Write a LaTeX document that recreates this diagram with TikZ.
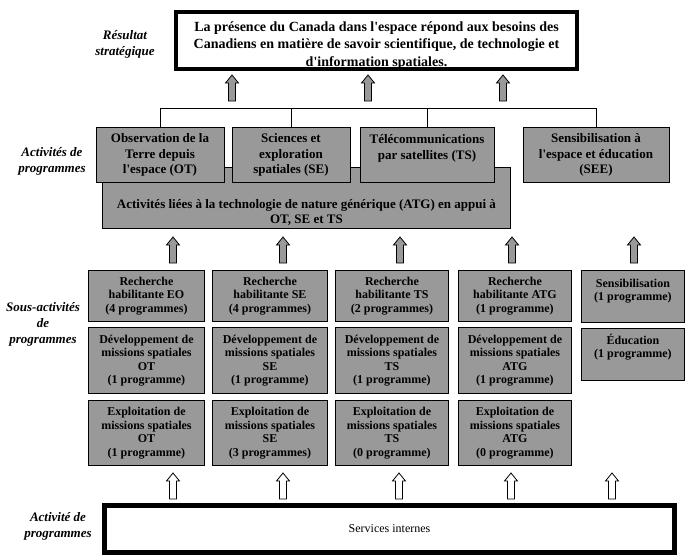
\documentclass[tikz,border=0pt]{standalone}
\usepackage{fontspec}
\setmainfont{Liberation Serif}[Ligatures=TeXOff]
\usetikzlibrary{calc}
\definecolor{boxgray}{RGB}{153,153,153}
\newcommand{\pbx}[4]{\parbox[c][#2][#3]{#1}{\centering #4\par}}
\begin{document}
\begin{tikzpicture}[x=1pt,y=-1pt,
  gbox/.style={draw=black, line width=0.9pt, fill=boxgray, inner sep=0pt, font=\bfseries\fontsize{12}{13.5}\selectfont},
  abox/.style={gbox, anchor=north, font=\bfseries\fontsize{13}{15.5}\selectfont},
  sbox/.style={gbox, anchor=north west},
  lbl/.style={align=center, inner sep=0pt, font=\bfseries\itshape\fontsize{13}{16}\selectfont},
  link/.style={draw=black, line width=0.9pt},
  pics/blockup/.style={code={\draw[line width=0.8pt, fill=#1] (-3.5,0) -- (-3.5,-18) -- (-6.5,-18) -- (0,-26) -- (6.5,-18) -- (3.5,-18) -- (3.5,0) -- cycle;}}
]
\fill[white] (0,0) rectangle (694,560);
\useasboundingbox (0,0) rectangle (694,560);

% strategic result
\node[draw=black, line width=3pt, fill=white, inner sep=0pt, anchor=north west, font=\bfseries\fontsize{14}{17.5}\selectfont] (res) at (174,10)
  {\pbx{402pt}{58pt}{t}{\rule{0pt}{19.5pt}La présence du Canada dans l'espace répond aux besoins des\\Canadiens en matière de savoir scientifique, de technologie et\\d'information spatiales.}};
\draw[line width=0.8pt] ($(res.north west)+(3.5,3.5)$) rectangle ($(res.south east)+(-3.5,-3.5)$);

\pic at (232,101) {blockup=boxgray};
\pic at (368,101) {blockup=boxgray};
\pic at (503,101) {blockup=boxgray};

% program activities
\node[gbox, anchor=north west, font=\bfseries\fontsize{13}{15}\selectfont] (atg) at (102,167)
  {\pbx{408pt}{61pt}{b}{Activités liées à la technologie de nature générique (ATG) en appui à\\OT, SE et TS\\[3pt]}};
\node[abox] (ot) at (160,127) {\pbx{128pt}{55pt}{c}{Observation de la\\Terre depuis\\l'espace (OT)}};
\node[abox] (se) at (291,127) {\pbx{118pt}{55pt}{c}{Sciences et\\exploration\\spatiales (SE)}};
\node[abox] (ts) at (427,127) {\pbx{134pt}{55pt}{t}{\rule{0pt}{16.5pt}Télécommunications\\par satellites (TS)}};
\node[abox] (see) at (596,127) {\pbx{146pt}{55pt}{c}{Sensibilisation à\\l'espace et éducation\\(SEE)}};

\coordinate (bk) at (0,108);
\draw[link] (ot.north) -- (ot.north |- bk) -- (see.north |- bk) -- (see.north);
\draw[link] (se.north) -- (se.north |- bk);
\draw[link] (ts.north) -- (ts.north |- bk);

\pic at (173,263) {blockup=boxgray};
\pic at (283,263) {blockup=boxgray};
\pic at (400,263) {blockup=boxgray};
\pic at (512,263) {blockup=boxgray};
\pic at (634,263) {blockup=boxgray};

% sub-activities
\node[sbox] (r1) at (88,270) {\pbx{116pt}{51pt}{c}{Recherche\\habilitante EO\\(4 programmes)}};
\node[sbox] (r2) at (212,270) {\pbx{115pt}{51pt}{c}{Recherche\\habilitante SE\\(4 programmes)}};
\node[sbox] (r3) at (335,270) {\pbx{113pt}{51pt}{c}{Recherche\\habilitante TS\\(2 programmes)}};
\node[sbox] (r4) at (458,270) {\pbx{113pt}{51pt}{c}{Recherche\\habilitante ATG\\(1 programme)}};
\node[sbox] (r5) at (581,270) {\pbx{103pt}{52pt}{t}{\rule{0pt}{17pt}Sensibilisation\\(1 programme)}};

\node[sbox] (d1) at (88,327) {\pbx{116pt}{66pt}{c}{Développement de\\missions spatiales\\OT\\(1 programme)}};
\node[sbox] (d2) at (212,327) {\pbx{115pt}{66pt}{c}{Développement de\\missions spatiales\\SE\\(1 programme)}};
\node[sbox] (d3) at (335,327) {\pbx{113pt}{66pt}{c}{Développement de\\missions spatiales\\TS\\(1 programme)}};
\node[sbox] (d4) at (458,327) {\pbx{113pt}{66pt}{c}{Développement de\\missions spatiales\\ATG\\(1 programme)}};
\node[sbox] (d5) at (581,328) {\pbx{103pt}{52pt}{t}{\rule{0pt}{16pt}Éducation\\(1 programme)}};

\node[sbox] (e1) at (88,400) {\pbx{116pt}{65pt}{c}{Exploitation de\\missions spatiales\\OT\\(1 programme)}};
\node[sbox] (e2) at (212,400) {\pbx{115pt}{65pt}{c}{Exploitation de\\missions spatiales\\SE\\(3 programmes)}};
\node[sbox] (e3) at (335,400) {\pbx{113pt}{65pt}{c}{Exploitation de\\missions spatiales\\TS\\(0 programme)}};
\node[sbox] (e4) at (458,400) {\pbx{113pt}{65pt}{c}{Exploitation de\\missions spatiales\\ATG\\(0 programme)}};

\pic at (173,499) {blockup=white};
\pic at (283,499) {blockup=white};
\pic at (399,499) {blockup=white};
\pic at (511,499) {blockup=white};
\pic at (612,499) {blockup=white};

% internal services
\node[draw=black, line width=5pt, fill=white, inner sep=0pt, anchor=north west, minimum width=570pt, minimum height=47pt, font=\fontsize{12}{14}\selectfont] (svc) at (102,503) {Services internes};

% row labels
\node[lbl] (l1) at (125,44) {Résultat\\stratégique};
\node[lbl] (l2) at (52,161) {Activités de\\programmes};
\node[lbl] (l3) at (43,324) {Sous-activités\\de\\programmes};
\node[lbl] (l4) at (58,526) {Activité de\\programmes};
\end{tikzpicture}
\end{document}
